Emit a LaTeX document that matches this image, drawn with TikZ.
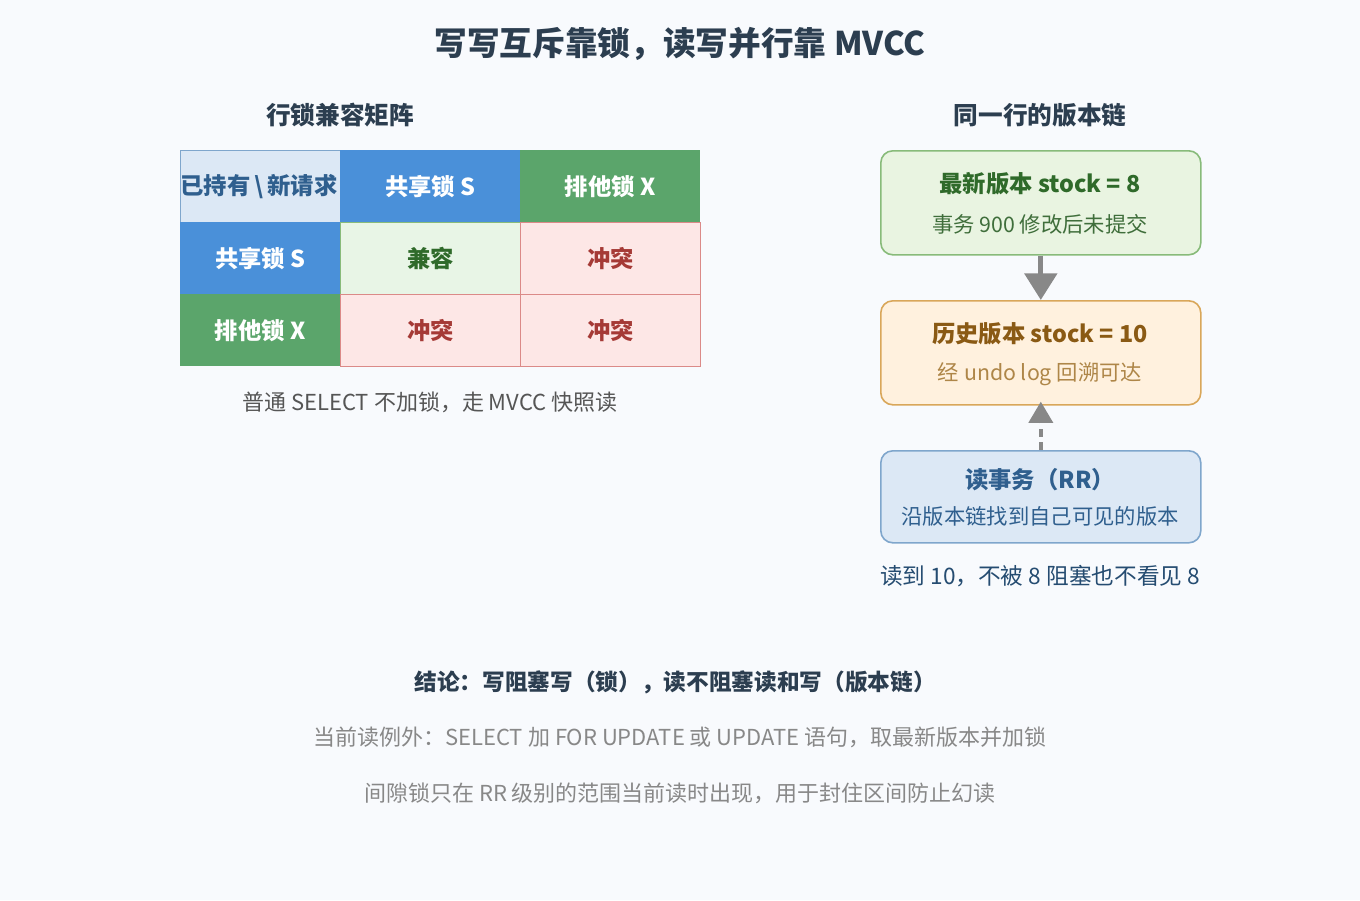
\documentclass[tikz,border=0pt]{standalone}
\usepackage{fontspec}
\setmainfont{Noto Sans CJK SC}
\usetikzlibrary{arrows.meta}
\definecolor{bg}{HTML}{F8FAFD}
\definecolor{dark}{HTML}{2C3E50}
\definecolor{sblue}{HTML}{4A90D9}
\definecolor{xgreen}{HTML}{5BA56B}
\definecolor{hdr}{HTML}{DCE8F5}
\definecolor{hdrb}{HTML}{7FA6CC}
\definecolor{okf}{HTML}{E8F5E6}
\definecolor{okt}{HTML}{2F6A2A}
\definecolor{badf}{HTML}{FDE7E6}
\definecolor{badb}{HTML}{DB8A88}
\definecolor{badt}{HTML}{A53A36}
\definecolor{gf}{HTML}{E9F4E1}
\definecolor{gb}{HTML}{88BB7A}
\definecolor{of}{HTML}{FFF1DE}
\definecolor{ob}{HTML}{D9A75A}
\definecolor{ot}{HTML}{8A5A14}
\definecolor{bf}{HTML}{DCE8F5}
\definecolor{bb}{HTML}{7FA6CC}
\definecolor{bt}{HTML}{2F5F8E}
\definecolor{gray1}{HTML}{555555}
\definecolor{gray2}{HTML}{888888}
\begin{document}
\begin{tikzpicture}[x=0.75pt,y=-0.75pt,
 cell/.style={minimum width=135pt,minimum height=54pt,inner sep=0pt,font=\fontsize{17.5pt}{20pt}\selectfont\bfseries,anchor=north west},
 cellw/.style={cell,minimum width=120pt},
 box/.style={rounded corners=9pt,line width=1.2pt,minimum width=240pt,anchor=north west,inner sep=0pt,align=center},
 arr/.style={draw=gray2,line width=4pt,-{Triangle[length=20pt,width=24pt]}}]
\fill[bg] (0,0) rectangle (1360,900);
\node[font=\fontsize{24.5pt}{27pt}\selectfont\bfseries,text=dark] (title) at (680,44) {写写互斥靠锁，读写并行靠 MVCC};
\node[font=\fontsize{18.5pt}{21pt}\selectfont\bfseries,text=dark] (h1) at (340,115) {行锁兼容矩阵};
\node[font=\fontsize{18.5pt}{21pt}\selectfont\bfseries,text=dark] (h2) at (1040,115) {同一行的版本链};
% table
\node[cellw,fill=hdr,draw=hdrb,line width=1pt,text=bt] (c00) at (180,150) {};
\node[font=\fontsize{17.5pt}{20pt}\selectfont\bfseries,text=bt] (c00t) at (259,187) {已持有\,\textbackslash\,新请求};
\node[cell,fill=sblue,text=white] (c01) at (340,150) {共享锁 S};
\node[cell,fill=xgreen,text=white] (c02) at (520,150) {排他锁 X};
\node[cellw,fill=sblue,text=white] (c10) at (180,222) {共享锁 S};
\node[cellw,fill=xgreen,text=white] (c20) at (180,294) {排他锁 X};
\node[cell,fill=okf,draw=gb,line width=1pt,text=okt] (c11) at (340,222) {兼容};
\node[cell,fill=badf,draw=badb,line width=1pt,text=badt] (c12) at (520,222) {冲突};
\node[cell,fill=badf,draw=badb,line width=1pt,text=badt] (c21) at (340,294) {冲突};
\node[cell,fill=badf,draw=badb,line width=1pt,text=badt] (c22) at (520,294) {冲突};
\node[font=\fontsize{16.5pt}{19pt}\selectfont,text=gray1] (cap1) at (430,402) {普通 SELECT 不加锁，走 MVCC 快照读};
% chain
\node[box,fill=gf,draw=gb,minimum height=78pt] (v1) at (880,150) {};
\node[font=\fontsize{17.5pt}{20pt}\selectfont\bfseries,text=okt] (v1a) at (1040,184) {最新版本 stock = 8};
\node[font=\fontsize{16pt}{19pt}\selectfont,text=okt!80!gray] (v1b) at (1040,224) {事务 900 修改后未提交};
\node[box,fill=of,draw=ob,minimum height=78pt] (v2) at (880,300) {};
\node[font=\fontsize{17.5pt}{20pt}\selectfont\bfseries,text=ot] (v2a) at (1040,334) {历史版本 stock = 10};
\node[font=\fontsize{16pt}{19pt}\selectfont,text=ob!80!black] (v2b) at (1040,374) {经 undo log 回溯可达};
\node[box,fill=bf,draw=bb,minimum height=69pt] (v3) at (880,450) {};
\node[font=\fontsize{17.5pt}{20pt}\selectfont\bfseries,text=bt] (v3a) at (1040,480) {读事务（RR）};
\node[font=\fontsize{16pt}{19pt}\selectfont,text=bt] (v3b) at (1040,516) {沿版本链找到自己可见的版本};
\draw[arr] (v1.south) -- (v2.north);
\draw[arr,line width=3pt,dash pattern=on 6pt off 4pt,-{Triangle[length=16pt,width=18pt]}] (v3.north) -- ([yshift=3pt]v2.south);
\node[font=\fontsize{17pt}{20pt}\selectfont,text=bt!80!black] (cap2) at (1040,576) {读到 10，不被 8 阻塞也不看见 8};
% bottom
\node[font=\fontsize{17pt}{20pt}\selectfont\bfseries,text=dark] (c1) at (675,682) {结论：写阻塞写（锁），读不阻塞读和写（版本链）};
\node[font=\fontsize{16.5pt}{19pt}\selectfont,text=gray2] (c2) at (680,737) {当前读例外：SELECT 加 FOR UPDATE 或 UPDATE 语句，取最新版本并加锁};
\node[font=\fontsize{16.5pt}{19pt}\selectfont,text=gray2] (c3) at (680,793) {间隙锁只在 RR 级别的范围当前读时出现，用于封住区间防止幻读};
\end{tikzpicture}
\end{document}
